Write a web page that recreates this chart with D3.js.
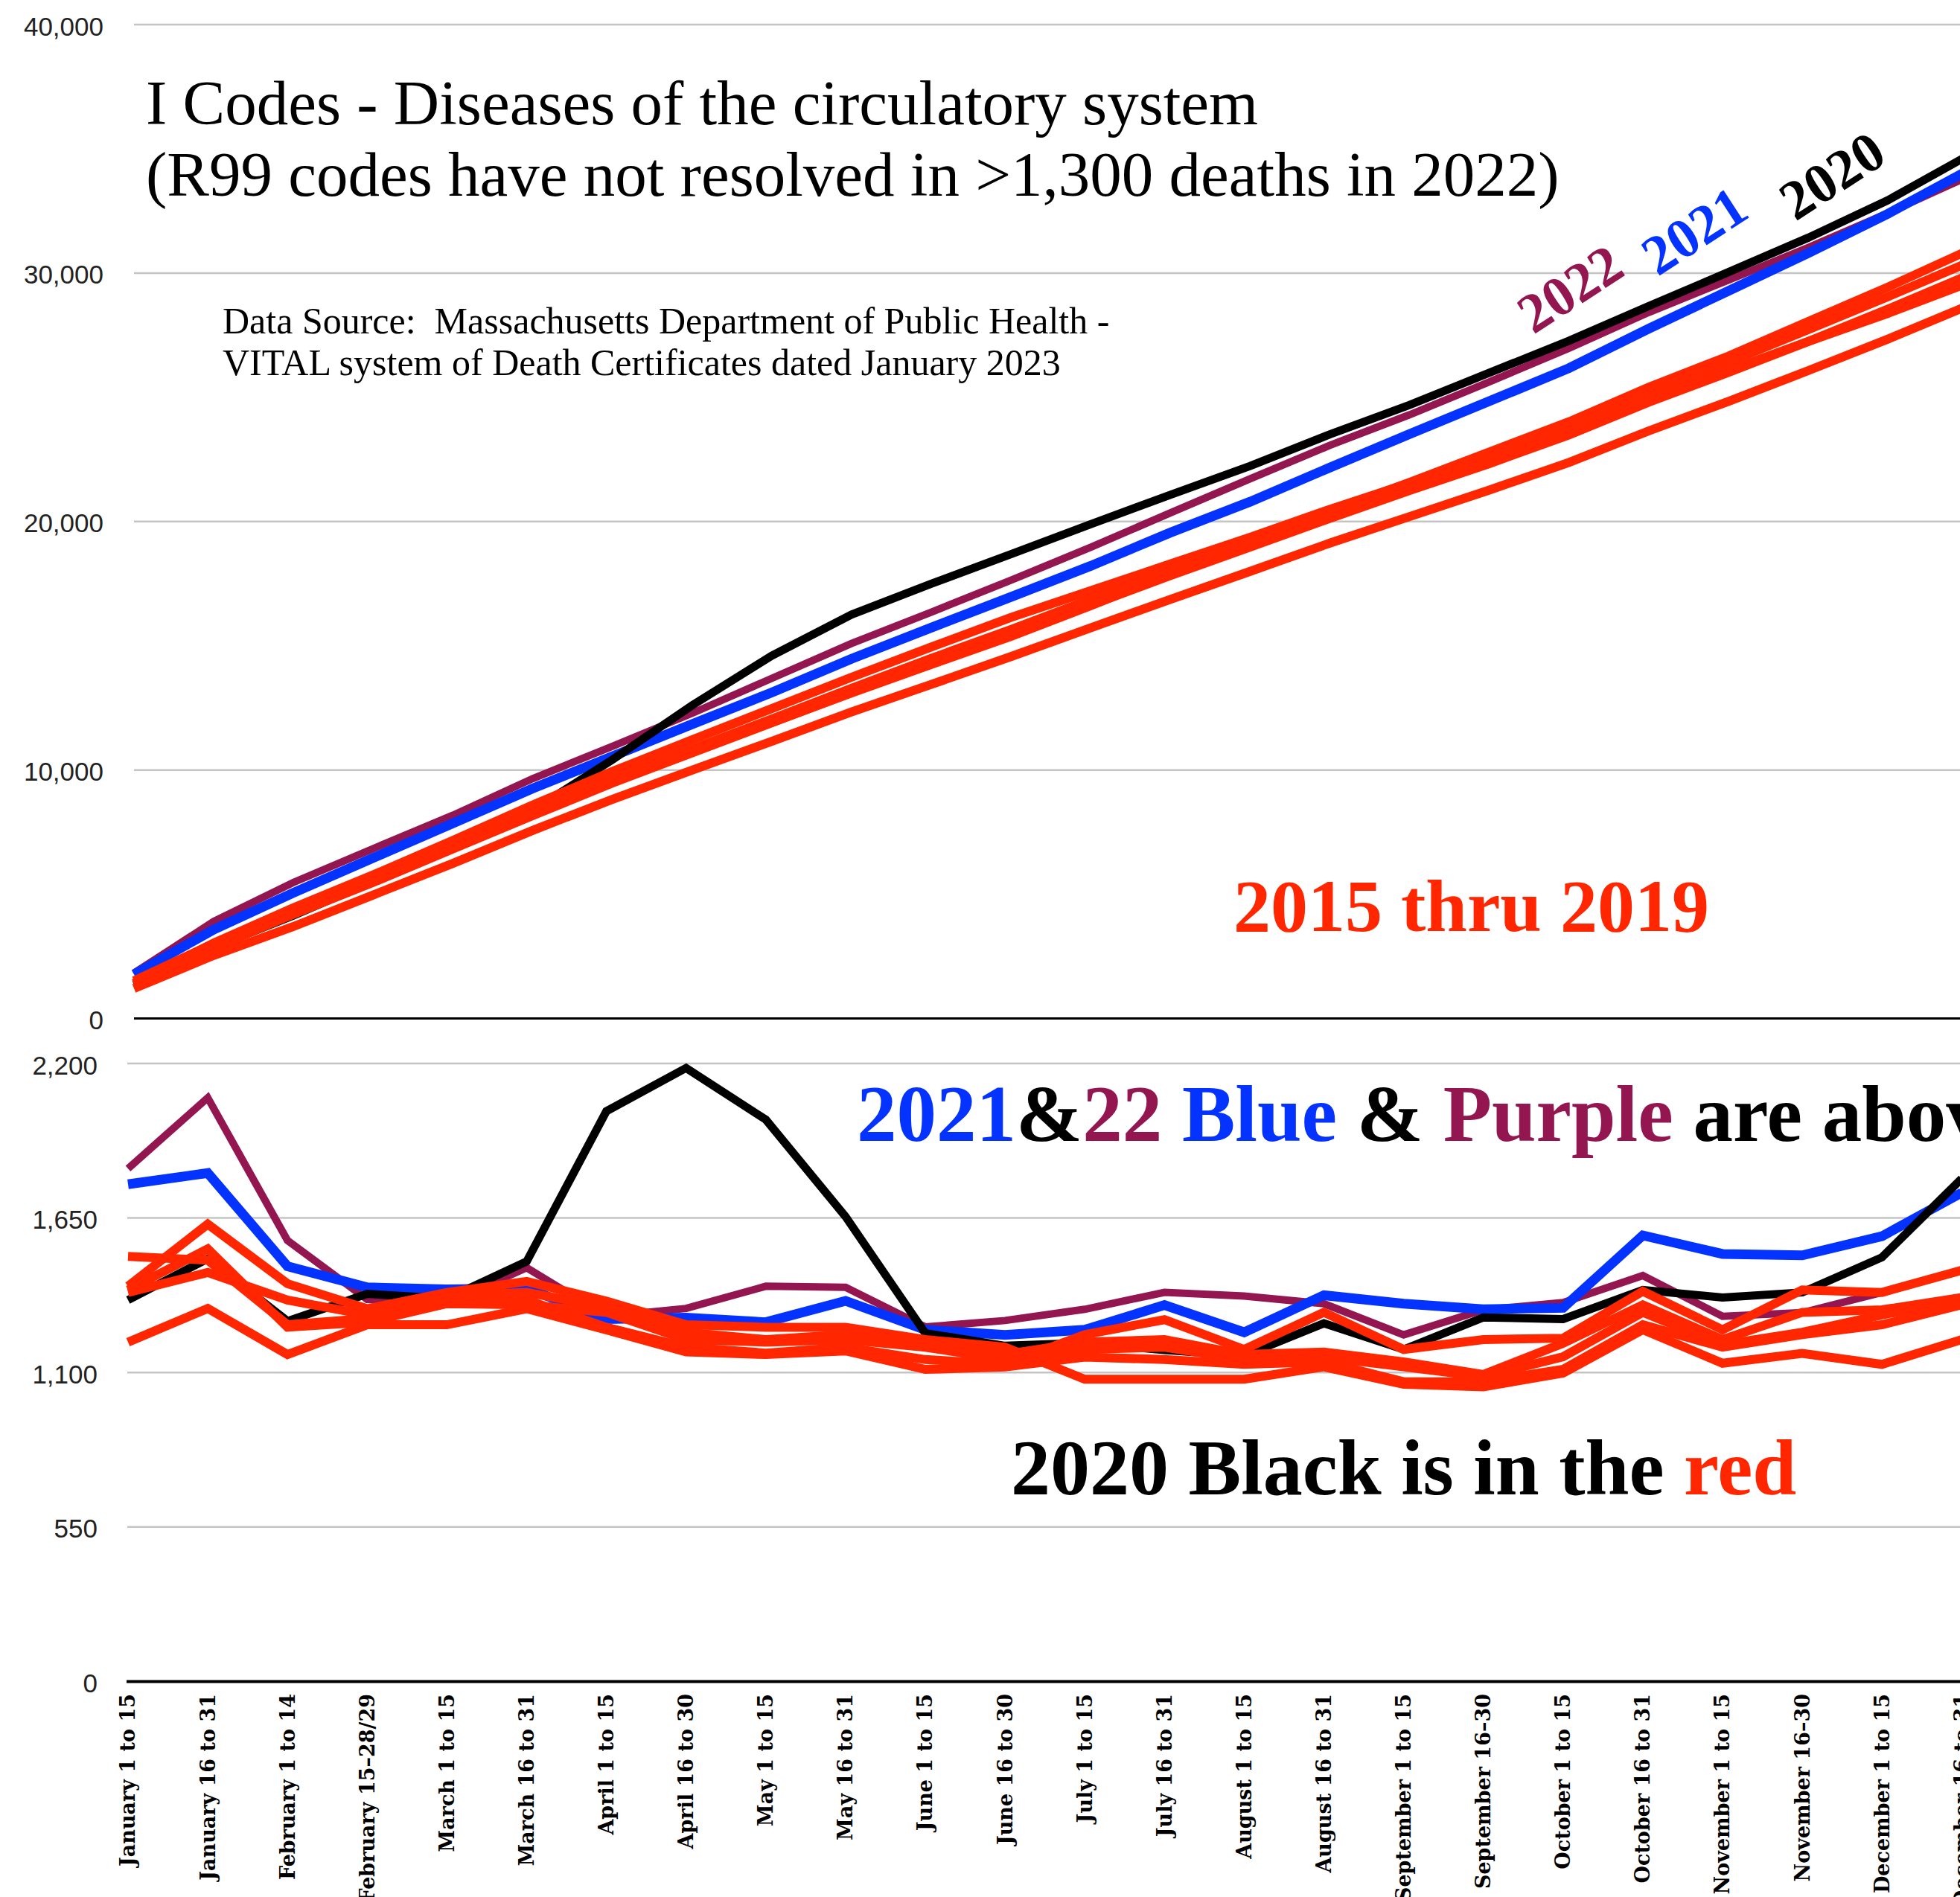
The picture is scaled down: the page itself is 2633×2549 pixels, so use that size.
<!DOCTYPE html>
<html>
<head>
<meta charset="utf-8">
<script src="https://cdn.jsdelivr.net/npm/d3@7"></script>
<style>
  body { margin: 0; background: #fff; }
  svg { display: block; }
</style>
</head>
<body>
<div id="visualization"></div>
<script>
// half-month periods
const categories = [
  "January 1 to 15", "January 16 to 31", "February 1 to 14", "February 15\u201328/29",
  "March 1 to 15", "March 16 to 31", "April 1 to 15", "April 16 to 30",
  "May 1 to 15", "May 16 to 31", "June 1 to 15", "June 16 to 30",
  "July 1 to 15", "July 16 to 31", "August 1 to 15", "August 16 to 31",
  "September 1 to 15", "September 16\u201330", "October 1 to 15", "October 16 to 31",
  "November 1 to 15", "November 16\u201330", "December 1 to 15", "December 16 to 31"
];

// deaths per half month
const deaths2020 = [1358, 1505, 1283, 1380, 1363, 1495, 2030, 2184, 2000, 1655, 1240, 1195,
                    1205, 1180, 1160, 1275, 1182, 1296, 1290, 1394, 1367, 1385, 1510, 1790];
const deaths2021 = [1770, 1810, 1478, 1403, 1396, 1400, 1290, 1295, 1279, 1355, 1252, 1234,
                    1252, 1340, 1243, 1375, 1345, 1325, 1330, 1588, 1522, 1517, 1585, 1740];
const deaths2022 = [1826, 2078, 1570, 1360, 1345, 1473, 1300, 1328, 1407, 1403, 1262, 1285,
                    1325, 1385, 1372, 1345, 1234, 1323, 1349, 1445, 1300, 1313, 1385, 1464];
const deaths2015 = [1208, 1328, 1164, 1270, 1270, 1327, 1252, 1173, 1164, 1177, 1111, 1120,
                    1155, 1146, 1129, 1138, 1067, 1067, 1111, 1270, 1190, 1235, 1270, 1341];
const deaths2016 = [1407, 1628, 1416, 1327, 1385, 1424, 1354, 1270, 1261, 1261, 1217, 1190,
                    1076, 1076, 1076, 1120, 1058, 1049, 1098, 1252, 1133, 1168, 1129, 1217];
const deaths2017 = [1394, 1540, 1261, 1279, 1345, 1341, 1314, 1217, 1208, 1217, 1190, 1146,
                    1182, 1190, 1146, 1155, 1120, 1085, 1156, 1314, 1199, 1243, 1305, 1358];
const deaths2018 = [1385, 1456, 1358, 1305, 1372, 1385, 1332, 1243, 1217, 1235, 1204, 1164,
                    1208, 1217, 1164, 1173, 1138, 1093, 1204, 1341, 1217, 1314, 1323, 1367];
const deaths2019 = [1513, 1500, 1270, 1292, 1358, 1358, 1261, 1190, 1169, 1190, 1146, 1129,
                    1235, 1288, 1182, 1314, 1182, 1217, 1222, 1389, 1252, 1394, 1385, 1464];

const topTicks = [0, 10000, 20000, 30000, 40000];
const bottomTicks = [0, 550, 1100, 1650, 2200];

const RED = "#ff2600", BLUE = "#0433ff", PURPLE = "#941651", BLACK = "#000000";

// drawing order: purple under, reds on top
const series = [
  { name: "2022", values: deaths2022, color: PURPLE, width: 10 },
  { name: "2021", values: deaths2021, color: BLUE, width: 13 },
  { name: "2020", values: deaths2020, color: BLACK, width: 11 },
  { name: "2015", values: deaths2015, color: RED, width: 12 },
  { name: "2016", values: deaths2016, color: RED, width: 12 },
  { name: "2017", values: deaths2017, color: RED, width: 12 },
  { name: "2018", values: deaths2018, color: RED, width: 12 },
  { name: "2019", values: deaths2019, color: RED, width: 12 }
];

const W = 2633, H = 2549;
const svg = d3.select("#visualization")
  .append("svg")
  .attr("width", W)
  .attr("height", H)
  .style("background", "#fff");

const serif = "'Liberation Serif', 'Times New Roman', serif";
const sans = "'Liberation Sans', Arial, sans-serif";

// ---------- top chart: cumulative ----------
const xTop = d3.scalePoint().domain(categories).range([180, 180 + 23 * 107.1]);
const yTop = d3.scaleLinear().domain([0, 40000]).range([1368.5, 33]);

svg.append("g")
  .selectAll("line")
  .data(topTicks.filter(d => d > 0))
  .enter()
  .append("line")
  .attr("x1", 180).attr("x2", W)
  .attr("y1", d => yTop(d)).attr("y2", d => yTop(d))
  .attr("stroke", "#c4c4c4")
  .attr("stroke-width", 2.5);

svg.append("line")
  .attr("x1", 180).attr("x2", W)
  .attr("y1", yTop(0)).attr("y2", yTop(0))
  .attr("stroke", "#000").attr("stroke-width", 3);

const topAxis = svg.append("g")
  .attr("transform", "translate(139,0)")
  .call(d3.axisLeft(yTop).tickValues(topTicks).tickSize(0).tickPadding(0).tickFormat(d3.format(",")));
topAxis.select(".domain").remove();
topAxis.selectAll("text")
  .attr("dy", "0.4em")
  .style("font-family", sans)
  .style("font-size", "35px")
  .attr("fill", "#222");

const lineTop = d3.line()
  .x((d, i) => xTop(categories[i]))
  .y(d => yTop(d));

svg.append("g")
  .selectAll("path")
  .data(series)
  .enter()
  .append("path")
  .attr("d", d => lineTop(Array.from(d3.cumsum(d.values))))
  .attr("fill", "none")
  .attr("stroke", d => d.color)
  .attr("stroke-width", d => d.width)
  .attr("stroke-linejoin", "miter");

// ---------- bottom chart: per half month ----------
const xBot = d3.scalePoint().domain(categories).range([172, 172 + 23 * 107.1]);
const yBot = d3.scaleLinear().domain([0, 2200]).range([2259.4, 1429]);

svg.append("g")
  .selectAll("line")
  .data(bottomTicks.filter(d => d > 0))
  .enter()
  .append("line")
  .attr("x1", 171).attr("x2", W)
  .attr("y1", d => yBot(d)).attr("y2", d => yBot(d))
  .attr("stroke", "#c4c4c4")
  .attr("stroke-width", 2.5);

svg.append("line")
  .attr("x1", 170).attr("x2", W)
  .attr("y1", yBot(0)).attr("y2", yBot(0))
  .attr("stroke", "#000").attr("stroke-width", 4);

const botAxis = svg.append("g")
  .attr("transform", "translate(131,0)")
  .call(d3.axisLeft(yBot).tickValues(bottomTicks).tickSize(0).tickPadding(0).tickFormat(d3.format(",")));
botAxis.select(".domain").remove();
botAxis.selectAll("text")
  .attr("dy", "0.4em")
  .style("font-family", sans)
  .style("font-size", "35px")
  .attr("fill", "#222");

const lineBot = d3.line()
  .x((d, i) => xBot(categories[i]))
  .y(d => yBot(d));

svg.append("g")
  .selectAll("path")
  .data(series)
  .enter()
  .append("path")
  .attr("d", d => lineBot(d.values))
  .attr("fill", "none")
  .attr("stroke", d => d.color)
  .attr("stroke-width", d => d.width)
  .attr("stroke-linejoin", "miter");

// category labels
svg.append("g")
  .selectAll("text")
  .data(categories)
  .enter()
  .append("text")
  .attr("transform", d => `translate(${xBot(d)},2276) rotate(-90)`)
  .attr("text-anchor", "end")
  .attr("dy", "0.35em")
  .style("font-family", "'DejaVu Serif', serif")
  .style("font-weight", "bold")
  .style("font-size", "27px")
  .text(d => d);

// ---------- annotations ----------
const title = svg.append("text")
  .style("font-family", serif)
  .style("font-size", "85px")
  .attr("fill", "#000");
title.append("tspan").attr("x", 196).attr("y", 167).text("I Codes - Diseases of the circulatory system");
title.append("tspan").attr("x", 196).attr("y", 263).text("(R99 codes have not resolved in >1,300 deaths in 2022)");

const source = svg.append("text")
  .style("font-family", serif)
  .style("font-size", "50px")
  .style("white-space", "pre")
  .attr("fill", "#000");
source.append("tspan").attr("x", 299).attr("y", 448).text("Data Source:  Massachusetts Department of Public Health -");
source.append("tspan").attr("x", 299).attr("y", 504).text("VITAL system of Death Certificates dated January 2023");

const yearLabels = [
  { text: "2022", color: PURPLE, x: 2060, y: 450 },
  { text: "2021", color: BLUE, x: 2227, y: 372 },
  { text: "2020", color: BLACK, x: 2412, y: 298 }
];
svg.append("g")
  .selectAll("text")
  .data(yearLabels)
  .enter()
  .append("text")
  .attr("transform", d => `translate(${d.x},${d.y}) rotate(-33)`)
  .style("font-family", serif)
  .style("font-weight", "bold")
  .style("font-size", "75px")
  .attr("fill", d => d.color)
  .text(d => d.text);

svg.append("text")
  .attr("x", 1657).attr("y", 1251)
  .style("font-family", serif)
  .style("font-weight", "bold")
  .style("font-size", "100px")
  .attr("fill", RED)
  .text("2015 thru 2019");

const above = svg.append("text")
  .attr("x", 1151).attr("y", 1533)
  .style("font-family", serif)
  .style("font-weight", "bold")
  .style("font-size", "107px")
  .style("white-space", "pre");
above.append("tspan").attr("fill", BLUE).text("2021");
above.append("tspan").attr("fill", BLACK).text("&");
above.append("tspan").attr("fill", PURPLE).text("22");
above.append("tspan").attr("fill", BLUE).text(" Blue");
above.append("tspan").attr("fill", BLACK).text(" & ");
above.append("tspan").attr("fill", PURPLE).text("Purple");
above.append("tspan").attr("fill", BLACK).text(" are above");

const inRed = svg.append("text")
  .attr("x", 1358).attr("y", 2008)
  .style("font-family", serif)
  .style("font-weight", "bold")
  .style("font-size", "106px")
  .style("white-space", "pre");
inRed.append("tspan").attr("fill", BLACK).text("2020 Black is in the ");
inRed.append("tspan").attr("fill", RED).text("red");
</script>
</body>
</html>
